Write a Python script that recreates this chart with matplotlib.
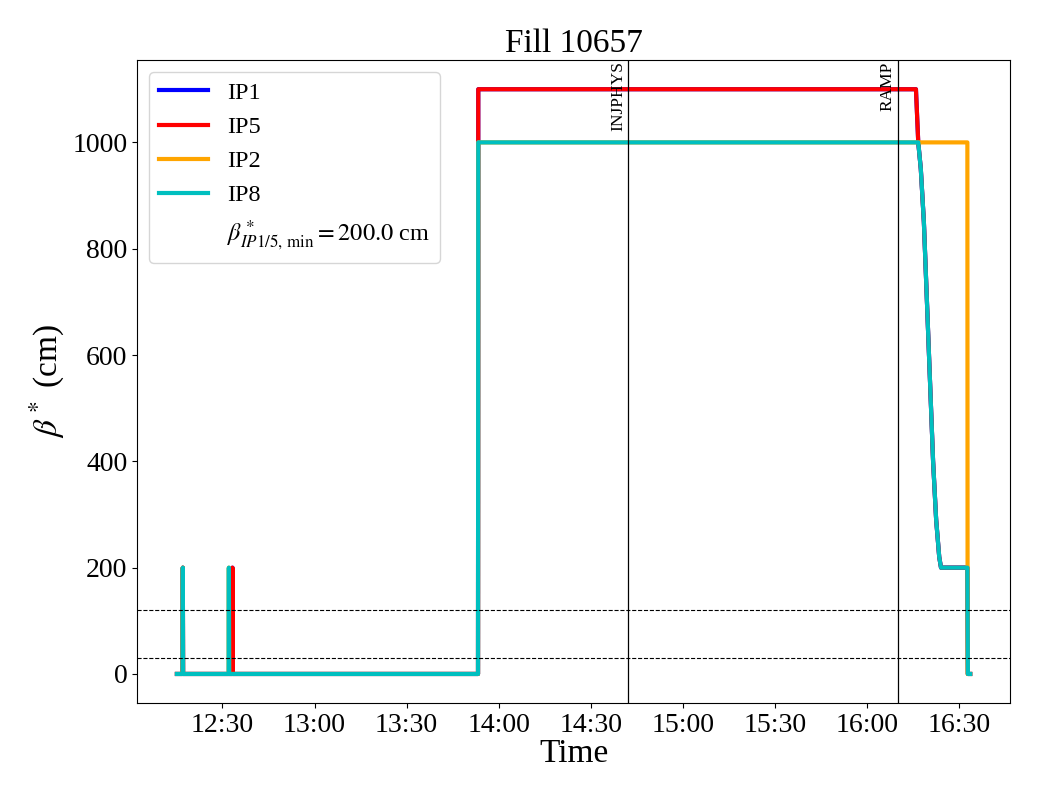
import numpy as np
import pandas as pd
import matplotlib
matplotlib.use("Agg")
import matplotlib.pyplot as plt
import matplotlib.dates as mdates

plt.rcParams['font.family'] = ['Liberation Serif', 'DejaVu Serif']
plt.rcParams['mathtext.fontset'] = 'stix'

day = "2024-05-20 "

# beta* per IP (cm)
ip15_time = ["12:15:10", "12:17:00", "12:17:05", "12:17:10", "12:33:10", "12:33:15",
             "12:33:20", "13:53:15", "13:53:20", "16:15:55", "16:16:40", "16:17:30",
             "16:18:30", "16:19:30", "16:20:30", "16:21:30", "16:22:30", "16:23:30",
             "16:24:05", "16:32:40", "16:32:50", "16:33:35"]
ip1_beta = [0, 0, 200, 0, 0, 200, 0, 0, 1100, 1100, 1000, 950, 850, 700, 550, 400,
            290, 220, 200, 200, 0, 0]
ip5_beta = [0, 0, 200, 0, 0, 200, 0, 0, 1100, 1100, 1000, 950, 850, 700, 550, 400,
            290, 220, 200, 200, 0, 0]

ip2_time = ["12:15:10", "12:17:00", "12:17:05", "12:17:10", "12:32:00", "12:32:05",
            "12:32:10", "13:53:15", "13:53:20", "16:32:40", "16:32:45", "16:33:35"]
ip2_beta = [0, 0, 200, 0, 0, 200, 0, 0, 1000, 1000, 0, 0]

ip8_time = ["12:15:10", "12:17:00", "12:17:05", "12:17:10", "12:32:00", "12:32:05",
            "12:32:10", "13:53:15", "13:53:20", "16:16:40", "16:17:30", "16:18:30",
            "16:19:30", "16:20:30", "16:21:30", "16:22:30", "16:23:30", "16:24:05",
            "16:32:40", "16:32:50", "16:33:35"]
ip8_beta = [0, 0, 200, 0, 0, 200, 0, 0, 1000, 1000, 950, 850, 700, 550, 400, 290,
            220, 200, 200, 0, 0]

modes = ["INJPHYS", "RAMP"]
mode_time = ["14:42:10", "16:10:00"]
ref_levels = [120, 30]
beta_min = 200.0


def to_dt(ts):
    return pd.to_datetime([day + t for t in ts])


fig = plt.figure(figsize=(10.4, 8), dpi=100)
ax = fig.add_axes([0.132, 0.121, 0.839, 0.804])

ax.plot(to_dt(ip15_time), ip1_beta, color='blue', lw=3, label='IP1')
ax.plot(to_dt(ip15_time), ip5_beta, color='red', lw=3, label='IP5')
ax.plot(to_dt(ip2_time), ip2_beta, color='orange', lw=3, label='IP2')
ax.plot(to_dt(ip8_time), ip8_beta, color='c', lw=3, label='IP8')
ax.plot([], [], ' ', label=r'$\beta^*_{IP1/5,\,\min} = %.1f$ cm' % beta_min)

for lvl in ref_levels:
    ax.axhline(lvl, color='k', ls='--', lw=0.8)

for m, t in zip(modes, to_dt(mode_time)):
    ax.axvline(t, color='k', lw=0.9)
    ax.text(t - pd.Timedelta(seconds=40), 0.998, m, rotation=90, ha='right', va='top',
            fontsize=12.5, transform=ax.get_xaxis_transform())

ax.xaxis.set_major_locator(mdates.MinuteLocator(byminute=[0, 30]))
ax.xaxis.set_major_formatter(mdates.DateFormatter('%H:%M'))
ax.tick_params(labelsize=20)
ax.set_xlabel('Time', fontsize=24, labelpad=0.5)
ax.set_ylabel(r'$\beta^*$ (cm)', fontsize=24)
ax.set_title('Fill 10657', fontsize=24)
ax.legend(loc='upper left', fontsize=17.5)

plt.savefig('out.png', dpi=100)
